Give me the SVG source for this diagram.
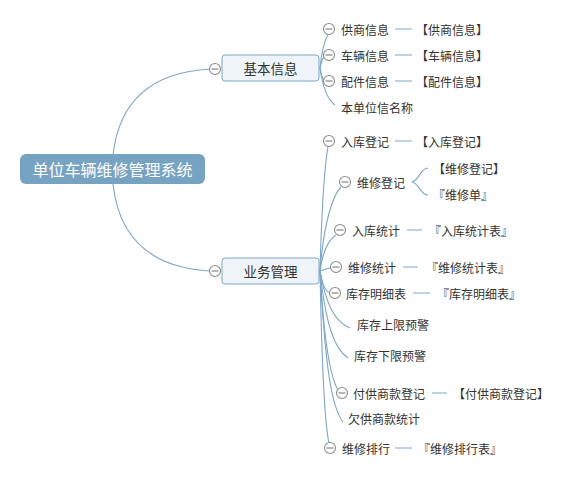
<svg xmlns="http://www.w3.org/2000/svg" width="574" height="478" viewBox="0 0 574 478">
<style>
.bg{fill:#ffffff}
.con{fill:none;stroke:#7ea6c8;stroke-width:1.1}
.col circle{fill:#fff;stroke:#8c8c8c;stroke-width:1.1}
.col line{stroke:#6e6e6e;stroke-width:1}
.t{font-family:"Noto Sans CJK SC","Noto Sans",sans-serif;font-size:12px;fill:#333;dominant-baseline:central}
.t2{font-family:"Noto Sans CJK SC","Noto Sans",sans-serif;font-size:13.5px;fill:#333;dominant-baseline:central;text-anchor:middle}
.root{font-family:"Noto Sans CJK SC","Noto Sans",sans-serif;font-size:16px;fill:#fff;dominant-baseline:central;text-anchor:middle}
.box{fill:#eef4f8;stroke:#7fa6c6;stroke-width:1}
</style>
<rect class="bg" width="574" height="478"/>
<g id="connectors">
<path class="con" d="M113,155 Q122,74 210,69"/>
<path class="con" d="M113,184 Q122,266 210,271"/>
<path class="con" d="M320,68 C322,48 326,38 328,34"/>
<path class="con" d="M320,68 C321,63 322,59 324,57"/>
<path class="con" d="M320,68 C321,74 322,78 324,80"/>
<path class="con" d="M320,68 C323,90 328,100 335,105"/>
<path class="con" d="M320,271 C322,196 326,158 328,146"/>
<path class="con" d="M320,271 C324,221 333,195 341,187"/>
<path class="con" d="M320,271 C323,249 330,239 336,235"/>
<path class="con" d="M320,271 C323,270 327,268 331,268"/>
<path class="con" d="M320,271 C322,284 325,291 330,293"/>
<path class="con" d="M320,271 C326,305 335,322 350,328"/>
<path class="con" d="M320,271 C325.6,323 334,349 348,358"/>
<path class="con" d="M320,271 C324,342 330,377 338,390"/>
<path class="con" d="M320,271 C325,362 331,407 343,422"/>
<path class="con" d="M320,271 C322,374 325,426 329,443"/>
<path class="con" d="M395,29 H412 M395,55 H412 M395,81 H412 M395,141 H412 M407,230 H422 M403,267 H418 M413,293 H430 M432,393 H447 M395,448 H412"/>
<path class="con" d="M412,182 C420,180 420,168 428,168 M412,182 C420,184 420,195 428,195"/>
</g>
<g id="root">
<rect x="20" y="154" width="185" height="30" rx="6" fill="#77a3c2"/>
<text class="root" x="112.5" y="169">单位车辆维修管理系统</text>
</g>
<g id="n-jbxx">
<rect class="box" x="222" y="55" width="97" height="26" rx="3"/>
<text class="t2" x="270.5" y="68">基本信息</text>
<g class="col"><circle cx="215" cy="69" r="5.5"/><line x1="211.5" y1="69" x2="218.5" y2="69"/></g>
</g>
<g id="n-ywgl">
<rect class="box" x="222" y="258" width="97" height="26" rx="3"/>
<text class="t2" x="270.5" y="271">业务管理</text>
<g class="col"><circle cx="215" cy="271" r="5.5"/><line x1="211.5" y1="271" x2="218.5" y2="271"/></g>
</g>
<g id="n-gsxx">
<g class="col"><circle cx="329" cy="29" r="5.5"/><line x1="325.5" y1="29" x2="332.5" y2="29"/></g>
<text class="t" x="341" y="29">供商信息</text>
<text class="t" x="416" y="29">【供商信息】</text>
</g>
<g id="n-clxx">
<g class="col"><circle cx="329" cy="55" r="5.5"/><line x1="325.5" y1="55" x2="332.5" y2="55"/></g>
<text class="t" x="341" y="55">车辆信息</text>
<text class="t" x="416" y="55">【车辆信息】</text>
</g>
<g id="n-pjxx">
<g class="col"><circle cx="329" cy="81" r="5.5"/><line x1="325.5" y1="81" x2="332.5" y2="81"/></g>
<text class="t" x="341" y="81">配件信息</text>
<text class="t" x="416" y="81">【配件信息】</text>
</g>
<g id="n-bdw">
<text class="t" x="341" y="107">本单位信名称</text>
</g>
<g id="n-rkdj">
<g class="col"><circle cx="329" cy="141" r="5.5"/><line x1="325.5" y1="141" x2="332.5" y2="141"/></g>
<text class="t" x="341" y="141">入库登记</text>
<text class="t" x="416" y="141">【入库登记】</text>
</g>
<g id="n-wxdj">
<g class="col"><circle cx="345" cy="182" r="5.5"/><line x1="341.5" y1="182" x2="348.5" y2="182"/></g>
<text class="t" x="357" y="182">维修登记</text>
<text class="t" x="433" y="168">【维修登记】</text>
<text class="t" x="433" y="194">『维修单』</text>
</g>
<g id="n-rktj">
<g class="col"><circle cx="340" cy="230" r="5.5"/><line x1="336.5" y1="230" x2="343.5" y2="230"/></g>
<text class="t" x="352" y="230">入库统计</text>
<text class="t" x="429" y="230">『入库统计表』</text>
</g>
<g id="n-wxtj">
<g class="col"><circle cx="336" cy="267" r="5.5"/><line x1="332.5" y1="267" x2="339.5" y2="267"/></g>
<text class="t" x="348" y="267">维修统计</text>
<text class="t" x="426" y="267">『维修统计表』</text>
</g>
<g id="n-kcmx">
<g class="col"><circle cx="335" cy="293" r="5.5"/><line x1="331.5" y1="293" x2="338.5" y2="293"/></g>
<text class="t" x="346" y="293">库存明细表</text>
<text class="t" x="437" y="293">『库存明细表』</text>
</g>
<g id="n-kcsx">
<text class="t" x="357" y="324">库存上限预警</text>
</g>
<g id="n-kcxx">
<text class="t" x="354" y="355">库存下限预警</text>
</g>
<g id="n-fgsk">
<g class="col"><circle cx="342" cy="393" r="5.5"/><line x1="338.5" y1="393" x2="345.5" y2="393"/></g>
<text class="t" x="353" y="393">付供商款登记</text>
<text class="t" x="453" y="393">【付供商款登记】</text>
</g>
<g id="n-qgsk">
<text class="t" x="348" y="418">欠供商款统计</text>
</g>
<g id="n-wxph">
<g class="col"><circle cx="330" cy="448" r="5.5"/><line x1="326.5" y1="448" x2="333.5" y2="448"/></g>
<text class="t" x="342" y="448">维修排行</text>
<text class="t" x="418" y="448">『维修排行表』</text>
</g>
</svg>
